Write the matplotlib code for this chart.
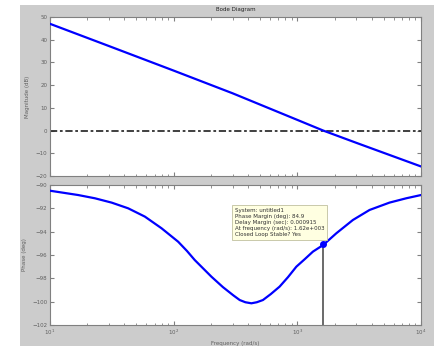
import numpy as np
import matplotlib
matplotlib.use('Agg')
import matplotlib.pyplot as plt
from matplotlib.patches import Rectangle

# magnitude (dB)
mag_freq = [10, 30, 100, 300, 1000, 1620, 3000, 10000]
mag_db = [47.0, 37.2, 26.4, 16.4, 4.7, 0.0, -5.4, -15.8]

# phase (deg)
ph_freq = [10, 16.9, 23.1, 31.5, 42.9, 58.5, 79.8, 108.7, 128, 148, 175, 202, 250,
           303, 342, 380, 425, 470, 527, 610, 719, 840, 982, 1150, 1337, 1620,
           2066, 2813, 3837, 5560, 7586, 10000]
ph_deg = [-90.49, -90.86, -91.14, -91.51, -92.0, -92.71, -93.71, -94.86, -95.65,
          -96.43, -97.2, -97.86, -98.75, -99.45, -99.86, -100.05, -100.14, -100.05,
          -99.86, -99.35, -98.71, -97.9, -97.0, -96.35, -95.71, -95.14,
          -94.14, -93.0, -92.14, -91.51, -91.14, -90.86]

# margin point
pm_freq = 1620
pm_phase = -95.1
info = ["System: untitled1",
        "Phase Margin (deg): 84.9",
        "Delay Margin (sec): 0.000915",
        "At frequency (rad/s): 1.62e+003",
        "Closed Loop Stable? Yes"]

W, H = 437, 346
fig = plt.figure(figsize=(W/100, H/100), dpi=100)
fig.patch.set_facecolor('white')
fig.add_artist(Rectangle((20/W, 0), (434-20)/W, 1-5/H, transform=fig.transFigure,
                         facecolor='#cccccc', edgecolor='none', zorder=-10))

def pos(l, t, r, b):
    return [l/W, 1-b/H, (r-l)/W, (b-t)/H]

ax1 = fig.add_axes(pos(50, 17, 421, 176))
ax2 = fig.add_axes(pos(50, 185, 421, 325))

tc = '#606060'
fs = 4
for ax in (ax1, ax2):
    ax.set_xscale('log')
    ax.set_xlim(10, 10000)
    ax.set_facecolor('white')
    for s in ax.spines.values():
        s.set_color('#808080')
        s.set_linewidth(0.8)
    ax.tick_params(which='both', direction='in', top=True, right=True,
                   colors='#808080', labelcolor=tc, labelsize=fs, pad=2)
    ax.tick_params(which='major', length=3)
    ax.tick_params(which='minor', length=1.8)

ax1.plot(mag_freq, mag_db, color='#0000ff', lw=1.6, zorder=3)
ax1.axhline(0, color='#303030', lw=1.3, ls=(0, (4, 1.5, 1.5, 1.5)), zorder=2)
ax1.set_ylim(-20, 50)
ax1.set_yticks(np.arange(-20, 51, 10))
ax1.tick_params(labelbottom=False)
ax1.set_ylabel('Magnitude (dB)', fontsize=fs, color=tc, labelpad=4)
ax1.set_title('Bode Diagram', fontsize=fs, color='#202020', pad=4)

ax2.plot(ph_freq, ph_deg, color='#0000ff', lw=1.6, zorder=3)
ax2.set_ylim(-102, -90)
ax2.set_yticks(np.arange(-102, -89, 2))
ax2.plot([pm_freq, pm_freq], [-102, pm_phase], color='#505050', lw=1.2, zorder=2)
ax2.plot([pm_freq], [pm_phase], 'o', color='#0000ff', ms=4, zorder=4)
ax2.set_ylabel('Phase (deg)', fontsize=fs, color=tc, labelpad=4)
ax2.set_xlabel('Frequency (rad/s)', fontsize=fs, color=tc, labelpad=3)

fig.text(235/W, 1-208/H, "\n".join(info), fontsize=4, color='#303030',
         va='top', ha='left', linespacing=1.25,
         bbox=dict(boxstyle='square,pad=0.5', facecolor='#ffffe1',
                   edgecolor='#c0c0a0', lw=0.6))

fig.savefig('out.png', dpi=100)
